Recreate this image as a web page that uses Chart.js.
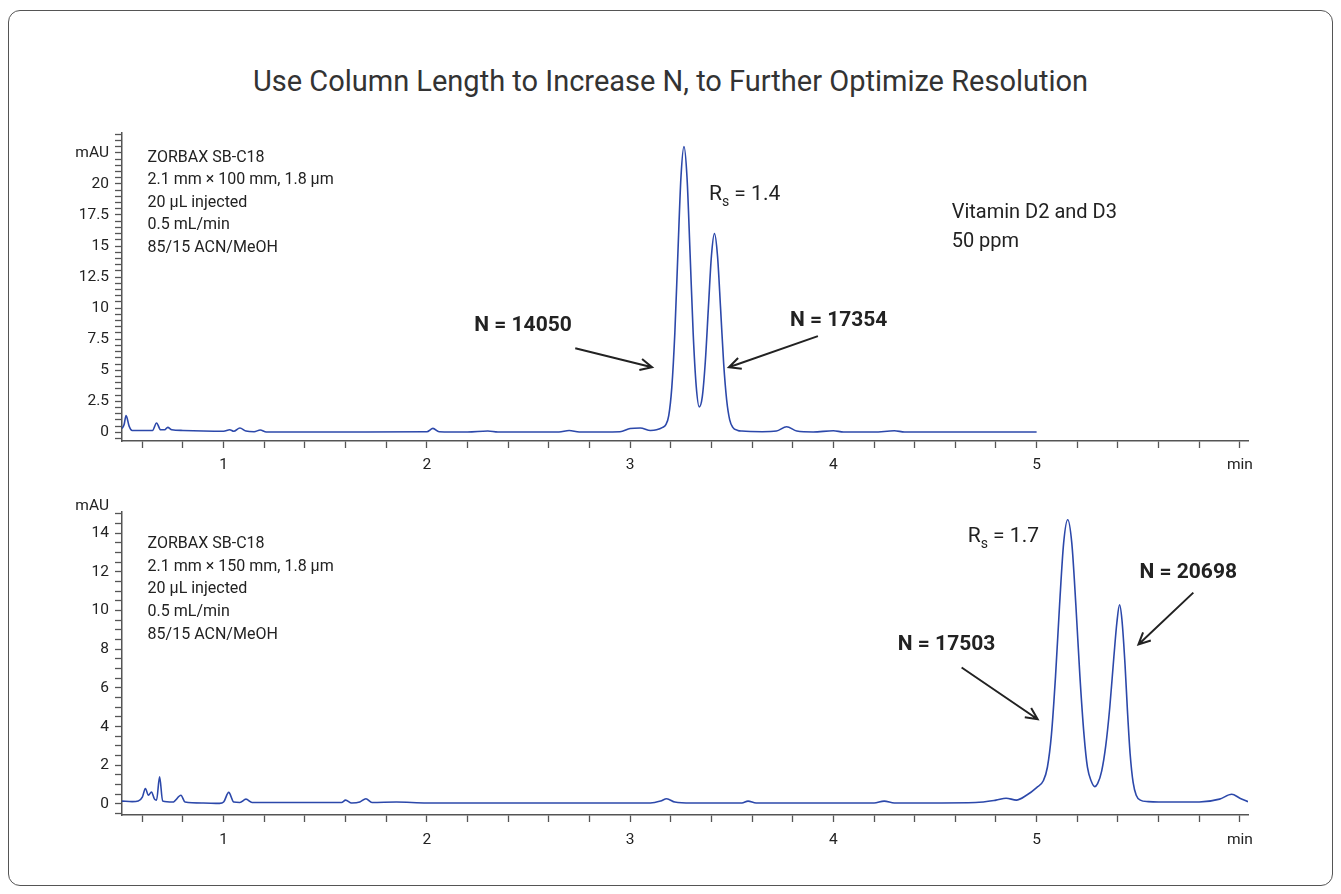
<!DOCTYPE html>
<html>
<head>
<meta charset="utf-8">
<title>Column length vs resolution</title>
<script src="https://cdn.jsdelivr.net/npm/chart.js@4.4.1/dist/chart.umd.min.js"></script>
<style>
  html, body { margin: 0; padding: 0; background: #fff; }
  body { width: 1341px; height: 894px; position: relative; overflow: hidden; font-family: Roboto, sans-serif; }
  #frame { position: absolute; left: 8px; top: 10px; width: 1323px; height: 874px; border: 1.5px solid #555; border-radius: 12px; }
  #title { position: absolute; left: 0; top: 64px; width: 1341px; text-align: center; font-size: 29px; color: #333; }
  .wrap { position: absolute; left: 0; width: 1341px; }
</style>
</head>
<body>
<div id="frame"></div>
<div id="title">Use Column Length to Increase N, to Further Optimize Resolution</div>
<div class="wrap" style="top:0;height:480px"><canvas id="chartTop" width="1341" height="480"></canvas></div>
<div class="wrap" style="top:480px;height:414px"><canvas id="chartBottom" width="1341" height="414"></canvas></div>

<script>
// 2.1 x 100 mm column (min / mAU)
const topTime = [0.50, 0.51, 0.52, 0.535, 0.55, 0.60, 0.65, 0.67, 0.69, 0.71, 0.725, 0.745, 0.80, 0.90, 1.00, 1.03, 1.05, 1.08, 1.11, 1.15, 1.18, 1.21, 1.40, 1.70, 2.00, 2.03, 2.06, 2.20, 2.30, 2.35, 2.65, 2.70, 2.75, 2.95, 3.00, 3.05, 3.10, 3.13, 3.16, 3.175, 3.19, 3.205, 3.22, 3.235, 3.25, 3.265, 3.28, 3.295, 3.31, 3.325, 3.34, 3.355, 3.37, 3.385, 3.40, 3.415, 3.43, 3.445, 3.46, 3.475, 3.49, 3.505, 3.53, 3.55, 3.65, 3.72, 3.77, 3.82, 3.90, 4.00, 4.05, 4.20, 4.30, 4.35, 4.60, 5.00];
const topSignal = [0.3, 0.6, 1.35, 0.5, 0.15, 0.15, 0.15, 0.75, 0.2, 0.2, 0.4, 0.2, 0.15, 0.1, 0.08, 0.2, 0.08, 0.35, 0.1, 0.05, 0.18, 0.03, 0.02, 0.03, 0.05, 0.32, 0.05, 0.02, 0.1, 0.02, 0.03, 0.15, 0.02, 0.05, 0.3, 0.35, 0.15, 0.2, 0.4, 0.6, 1.35, 3.6, 8, 14.4, 20.5, 23, 20.5, 14.4, 8.05, 3.75, 2.05, 2.85, 5.7, 10, 14.2, 16, 14.2, 10, 5.6, 2.6, 1.0, 0.4, 0.15, 0.1, 0.05, 0.1, 0.45, 0.1, 0.03, 0.12, 0.03, 0.02, 0.12, 0.03, 0.02, 0.02];

// 2.1 x 150 mm column
const bottomTime = [0.50, 0.55, 0.58, 0.60, 0.615, 0.63, 0.645, 0.66, 0.67, 0.685, 0.70, 0.75, 0.79, 0.81, 0.90, 0.98, 1.00, 1.025, 1.05, 1.08, 1.11, 1.14, 1.30, 1.50, 1.58, 1.60, 1.63, 1.67, 1.70, 1.73, 1.85, 2.00, 2.50, 3.10, 3.15, 3.18, 3.22, 3.30, 3.55, 3.58, 3.62, 4.20, 4.25, 4.30, 4.70, 4.80, 4.85, 4.90, 4.95, 5.00, 5.033, 5.053, 5.073, 5.093, 5.113, 5.133, 5.153, 5.173, 5.193, 5.213, 5.233, 5.25, 5.27, 5.286, 5.30, 5.32, 5.34, 5.36, 5.38, 5.395, 5.408, 5.42, 5.435, 5.447, 5.46, 5.475, 5.49, 5.51, 5.55, 5.60, 5.80, 5.90, 5.96, 6.00, 6.04];
const bottomSignal = [0.15, 0.12, 0.15, 0.35, 0.8, 0.45, 0.62, 0.25, 0.2, 1.4, 0.15, 0.1, 0.45, 0.1, 0.05, 0.03, 0.1, 0.6, 0.1, 0.08, 0.25, 0.08, 0.08, 0.08, 0.08, 0.2, 0.05, 0.1, 0.27, 0.08, 0.1, 0.05, 0.05, 0.05, 0.15, 0.27, 0.1, 0.05, 0.05, 0.15, 0.05, 0.05, 0.15, 0.05, 0.08, 0.2, 0.3, 0.2, 0.45, 0.85, 1.2, 1.9, 3.6, 6.6, 10.3, 13.5, 14.7, 13.5, 10.3, 6.6, 3.6, 1.9, 1.15, 0.9, 1.05, 1.7, 3.0, 5.0, 7.6, 9.4, 10.3, 9.5, 7.2, 4.8, 2.6, 1.1, 0.45, 0.2, 0.12, 0.1, 0.1, 0.25, 0.5, 0.3, 0.12];

const topInfo = ['ZORBAX SB-C18', '2.1 mm \u00d7 100 mm, 1.8 \u00b5m', '20 \u00b5L injected', '0.5 mL/min', '85/15 ACN/MeOH'];
const bottomInfo = ['ZORBAX SB-C18', '2.1 mm \u00d7 150 mm, 1.8 \u00b5m', '20 \u00b5L injected', '0.5 mL/min', '85/15 ACN/MeOH'];

const FONT = 'Roboto, "Liberation Sans", sans-serif';
const TRACE = '#2c48aa';
const AXIS = '#555';

// dibuja textos, flechas y la etiqueta mAU
const notesPlugin = {
    id: 'notes',
    afterDatasetsDraw(chart, args, opts) {
        const ctx = chart.ctx;
        const px = v => chart.scales.x.getPixelForValue(v);
        const py = v => chart.scales.y.getPixelForValue(v);
        ctx.save();
        ctx.fillStyle = '#222';
        ctx.textBaseline = 'middle';

        ctx.font = '15.5px ' + FONT;
        ctx.textAlign = 'right';
        ctx.fillText('mAU', chart.chartArea.left - 13, py(opts.unitAt));

        ctx.textAlign = 'left';
        ctx.font = '16px ' + FONT;
        opts.info.lines.forEach((t, i) => ctx.fillText(t, px(opts.info.x), py(opts.info.y) + i * opts.info.gap));

        (opts.texts || []).forEach(t => {
            ctx.font = t.font;
            ctx.fillText(t.text, px(t.x), py(t.y));
        });

        // R subscript s
        const r = opts.rs;
        let x0 = px(r.x);
        const y0 = py(r.y);
        ctx.font = '21px ' + FONT;
        ctx.fillText('R', x0, y0);
        x0 += ctx.measureText('R').width;
        ctx.font = '14px ' + FONT;
        ctx.fillText('s', x0, y0 + 7);
        x0 += ctx.measureText('s').width;
        ctx.font = '21px ' + FONT;
        ctx.fillText(' = ' + r.value, x0, y0);

        ctx.strokeStyle = '#222';
        ctx.lineWidth = 2;
        (opts.arrows || []).forEach(a => {
            const x1 = px(a.from[0]), y1 = py(a.from[1]);
            const x2 = px(a.to[0]), y2 = py(a.to[1]);
            const ang = Math.atan2(y2 - y1, x2 - x1);
            ctx.beginPath();
            ctx.moveTo(x1, y1);
            ctx.lineTo(x2, y2);
            ctx.moveTo(x2 - 13 * Math.cos(ang - 0.45), y2 - 13 * Math.sin(ang - 0.45));
            ctx.lineTo(x2, y2);
            ctx.lineTo(x2 - 13 * Math.cos(ang + 0.45), y2 - 13 * Math.sin(ang + 0.45));
            ctx.stroke();
        });
        ctx.restore();
    }
};

function isMultiple(v, step) {
    const q = v / step;
    return Math.abs(q - Math.round(q)) < 1e-6;
}

function makeChart(id, time, signal, cfg) {
    const points = time.map((t, i) => ({ x: t, y: signal[i] }));
    return new Chart(document.getElementById(id), {
        type: 'line',
        data: {
            datasets: [{
                data: points,
                borderColor: TRACE,
                borderWidth: 1.6,
                pointRadius: 0,
                cubicInterpolationMode: 'monotone',
                fill: false
            }]
        },
        options: {
            responsive: false,
            animation: false,
            layout: { padding: { top: cfg.padTop, right: 93, bottom: cfg.padBottom, left: 0 } },
            plugins: {
                legend: { display: false },
                tooltip: { enabled: false },
                notes: cfg.notes
            },
            scales: {
                x: {
                    type: 'linear',
                    min: 0.5,
                    max: 6.04,
                    afterFit: s => { s.height = 34; },
                    border: { color: AXIS, width: 1.5 },
                    grid: { drawOnChartArea: false, drawTicks: true, tickLength: 7, tickColor: AXIS, tickWidth: 1.3 },
                    ticks: {
                        stepSize: 0.2,
                        includeBounds: false,
                        autoSkip: false,
                        maxRotation: 0,
                        padding: cfg.xPad,
                        color: '#222',
                        font: { family: FONT, size: 15.5 },
                        callback: v => {
                            if (Math.abs(v - 6) < 1e-6) return 'min';
                            return isMultiple(v, 1) ? String(Math.round(v)) : '';
                        }
                    }
                },
                y: {
                    min: cfg.yMin,
                    max: cfg.yMax,
                    afterFit: s => { s.width = 122; },
                    border: { color: AXIS, width: 1.5 },
                    grid: { drawOnChartArea: false, drawTicks: true, tickLength: 7, tickColor: AXIS, tickWidth: 1.3 },
                    ticks: {
                        stepSize: 0.5,
                        includeBounds: false,
                        autoSkip: false,
                        padding: 6,
                        color: '#222',
                        font: { family: FONT, size: 15.5 },
                        callback: v => (isMultiple(v, cfg.labelStep) && v <= cfg.labelMax) ? String(Math.round(v * 10) / 10) : ''
                    }
                }
            }
        },
        plugins: [notesPlugin]
    });
}

makeChart('chartTop', topTime, topSignal, {
    padTop: 133, padBottom: 5, xPad: 8, yMin: -0.7, yMax: 24.1, labelStep: 2.5, labelMax: 20,
    notes: {
        unitAt: 22.5,
        info: { x: 0.626, y: 22.1, gap: 22.5, lines: topInfo },
        texts: [
            { text: 'N = 14050', x: 2.233, y: 8.55, font: 'bold 21px ' + FONT },
            { text: 'N = 17354', x: 3.786, y: 8.95, font: 'bold 21px ' + FONT },
            { text: 'Vitamin D2 and D3', x: 4.582, y: 17.66, font: '20px ' + FONT },
            { text: '50 ppm', x: 4.582, y: 15.3, font: '20px ' + FONT }
        ],
        rs: { x: 3.388, y: 19.1, value: '1.4' },
        arrows: [
            { from: [2.730, 6.77], to: [3.108, 5.24] },
            { from: [3.924, 7.74], to: [3.486, 5.24] }
        ]
    }
});

makeChart('chartBottom', bottomTime, bottomSignal, {
    padTop: 32, padBottom: 45, xPad: 9, yMin: -0.57, yMax: 15.1, labelStep: 2, labelMax: 14,
    notes: {
        unitAt: 15.4,
        info: { x: 0.626, y: 13.45, gap: 22.7, lines: bottomInfo },
        texts: [
            { text: 'N = 17503', x: 4.317, y: 8.25, font: 'bold 21px ' + FONT },
            { text: 'N = 20698', x: 5.506, y: 11.96, font: 'bold 21px ' + FONT }
        ],
        rs: { x: 4.661, y: 13.8, value: '1.7' },
        arrows: [
            { from: [4.631, 7.06], to: [5.005, 4.38] },
            { from: [5.771, 10.93], to: [5.501, 8.25] }
        ]
    }
});
</script>
</body>
</html>
